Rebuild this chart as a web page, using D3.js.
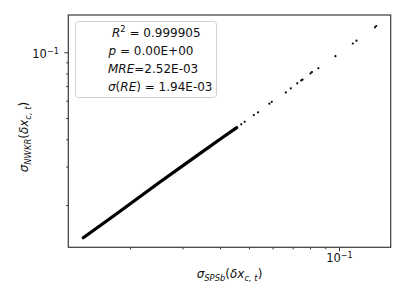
<!DOCTYPE html>
<html>
<head>
<meta charset="utf-8">
<script src="https://cdn.jsdelivr.net/npm/d3@7"></script>
<style>
  body { margin: 0; background: #fff; }
  text { font-family: "DejaVu Sans", sans-serif; fill: #111; }
</style>
</head>
<body>
<div id="chart"></div>
<script>
// dense band and the sparse points above it
const denseX = [0.01396, 0.0180, 0.0252, 0.0320, 0.0400, 0.0455];
const denseY = [0.01417, 0.0182, 0.0255, 0.0322, 0.0400, 0.0452];
const sparseX = [0.0471, 0.0484, 0.0519, 0.0536, 0.0585, 0.0596, 0.0664, 0.0690, 0.0725, 0.0748,
                 0.0755, 0.0803, 0.0812, 0.0853, 0.0973, 0.1112, 0.1144, 0.1319, 0.1332];
const sparseY = [0.0468, 0.0481, 0.0516, 0.0531, 0.0582, 0.0593, 0.0655, 0.0684, 0.0721, 0.0743,
                 0.0749, 0.0800, 0.0812, 0.0845, 0.0960, 0.1097, 0.1130, 0.1301, 0.1319];
const majorTicks = [0.1];
const minorTicks = [0.02, 0.03, 0.04, 0.05, 0.06, 0.07, 0.08, 0.09];
const statValues = ["0.999905", "0.00E+00", "2.52E-03", "1.94E-03"];

const W = 407, H = 305;
const box = { left: 68.3, right: 390.7, top: 15, bottom: 247.3 };

const svg = d3.select("#chart").append("svg")
  .attr("width", W).attr("height", H);

const x = d3.scaleLog().domain([0.01244, 0.1489]).range([box.left, box.right]);
const y = d3.scaleLog().domain([0.01281, 0.1481]).range([box.bottom, box.top]);

// rich text helper: parts = [text, italic?, "sub"|"sup"|undefined]
function rich(sel, parts, size) {
  let shift = 0;
  parts.forEach(([t, it, pos]) => {
    const target = pos === "sub" ? size * 0.28 : pos === "sup" ? -size * 0.38 : 0;
    sel.append("tspan")
      .attr("dy", target - shift)
      .style("font-style", it ? "italic" : "normal")
      .style("font-size", (pos ? size * 0.7 : size) + "px")
      .text(t);
    shift = target;
  });
}

const tickColor = "#333";

// x axis
const xMinor = svg.append("g").attr("transform", `translate(0,${box.bottom})`)
  .call(d3.axisBottom(x).tickValues(minorTicks).tickSize(2).tickFormat(""));
const xMajor = svg.append("g").attr("transform", `translate(0,${box.bottom})`)
  .call(d3.axisBottom(x).tickValues(majorTicks).tickSize(4).tickPadding(4).tickFormat(""));
// y axis
const yMinor = svg.append("g").attr("transform", `translate(${box.left},0)`)
  .call(d3.axisLeft(y).tickValues(minorTicks).tickSize(2).tickFormat(""));
const yMajor = svg.append("g").attr("transform", `translate(${box.left},0)`)
  .call(d3.axisLeft(y).tickValues(majorTicks).tickSize(4).tickFormat(""));

[xMinor, xMajor, yMinor, yMajor].forEach(g => {
  g.select(".domain").remove();
  g.selectAll("line").attr("stroke", tickColor).attr("stroke-width", 1);
});

xMajor.selectAll(".tick").each(function () {
  const t = d3.select(this).append("text").attr("x", 0).attr("y", 15)
    .attr("text-anchor", "middle");
  rich(t, [["10"], ["\u22121", false, "sup"]], 11.5);
});
yMajor.selectAll(".tick").each(function () {
  const t = d3.select(this).append("text").attr("x", -9.5).attr("y", 5.5)
    .attr("text-anchor", "end");
  rich(t, [["10"], ["\u22121", false, "sup"]], 11.5);
});

// dense part drawn as a thick band through the read points
svg.append("path")
  .datum(denseX.map((d, i) => [d, denseY[i]]))
  .attr("d", d3.line().x(d => x(d[0])).y(d => y(d[1])))
  .attr("fill", "none").attr("stroke", "#000")
  .attr("stroke-width", 3.3).attr("stroke-linecap", "round");

svg.append("g").selectAll("circle")
  .data(sparseX.map((d, i) => [d, sparseY[i]]))
  .join("circle")
  .attr("cx", d => x(d[0])).attr("cy", d => y(d[1]))
  .attr("r", 1.1).attr("fill", "#000");

// frame
svg.append("rect")
  .attr("x", box.left).attr("y", box.top)
  .attr("width", box.right - box.left).attr("height", box.bottom - box.top)
  .attr("fill", "none").attr("stroke", "#3a3a3a").attr("stroke-width", 1.2);

// stats legend
svg.append("rect")
  .attr("x", 75.5).attr("y", 21.5).attr("width", 141).attr("height", 76)
  .attr("rx", 3).attr("fill", "#fff").attr("fill-opacity", 0.8)
  .attr("stroke", "#d0d0d0").attr("stroke-width", 1);

const statParts = [
  [["R", true], ["2", false, "sup"], [" = " + statValues[0]]],
  [["p", true], [" = " + statValues[1]]],
  [["MRE", true], ["=" + statValues[2]]],
  [["\u03c3", true], ["("], ["RE", true], [")"], [" = " + statValues[3]]]
];
const statX = [112, 108.5, 108, 108];
statParts.forEach((parts, i) => {
  const t = svg.append("text").attr("x", statX[i]).attr("y", 36.7 + i * 18);
  rich(t, parts, 12);
});

// axis labels
const xl = svg.append("text").attr("x", (box.left + box.right) / 2).attr("y", 278)
  .attr("text-anchor", "middle");
rich(xl, [["\u03c3", true], ["SPSb", true, "sub"], ["("], ["\u03b4x", true],
          ["c, t", true, "sub"], [")"]], 12);

const yl = svg.append("text")
  .attr("transform", `translate(27.5,137) rotate(-90)`)
  .attr("text-anchor", "middle");
rich(yl, [["\u03c3", true], ["NWKR", true, "sub"], ["("], ["\u03b4x", true],
          ["c, t", true, "sub"], [")"]], 12);
</script>
</body>
</html>
